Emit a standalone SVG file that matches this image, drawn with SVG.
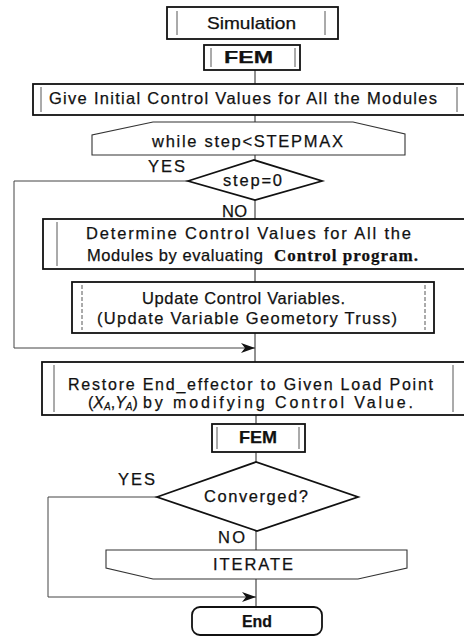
<svg xmlns="http://www.w3.org/2000/svg" width="464" height="637" viewBox="0 0 464 637">
<style>
.box{fill:#fff;stroke:#111;stroke-width:1.8}
.inner{stroke:#444;stroke-width:0.9;fill:none}
.shape{fill:#fff;stroke:#333;stroke-width:1.1}
.dia{fill:#fff;stroke:#111;stroke-width:1.8}
.conn{stroke:#222;stroke-width:1;fill:none}
.loop{stroke:#444;stroke-width:1;fill:none}
text{font-family:"Liberation Sans",Arial,sans-serif;font-size:16.5px;fill:#111;stroke:#111;stroke-width:0.25}
.b{font-weight:bold}
.serifb{font-family:"Liberation Serif","Times New Roman",serif;font-weight:bold;font-size:17px}
.r{font-size:16px}
</style>
<defs>
<marker id="arr" markerWidth="14" markerHeight="10" viewBox="0 0 14 10" refX="14" refY="5" orient="auto" markerUnits="userSpaceOnUse">
<path d="M0,0 L14,5 L0,10 L4,5 Z" fill="#111"/>
</marker>
</defs>
<g id="connectors">
<line class="conn" x1="255" y1="70" x2="255" y2="84"/>
<line class="conn" x1="255" y1="115" x2="255" y2="122"/>
<line class="conn" x1="255" y1="155" x2="255" y2="160"/>
<line class="conn" x1="255" y1="200" x2="255" y2="219"/>
<line class="conn" x1="255" y1="269" x2="255" y2="282"/>
<line class="conn" x1="255" y1="333" x2="255" y2="362"/>
<line class="conn" x1="256" y1="415" x2="256" y2="424"/>
<line class="conn" x1="256" y1="452" x2="256" y2="462"/>
<line class="conn" x1="256" y1="531" x2="256" y2="550"/>
<line class="conn" x1="256" y1="579" x2="256" y2="607"/>
<polyline class="loop" points="188,181 14,181 14,348 255,348" marker-end="url(#arr)"/>
<polyline class="loop" points="157,497 48,497 48,597 256,597" marker-end="url(#arr)"/>
</g>
<g id="simulation">
<rect class="box" x="167" y="7" width="171" height="32"/>
<line class="inner" x1="177" y1="11" x2="177" y2="35"/>
<line class="inner" x1="325" y1="11" x2="325" y2="35"/>
<text x="207" y="29" textLength="89" lengthAdjust="spacingAndGlyphs">Simulation</text>
</g>
<g id="fem1">
<rect class="box" x="204" y="45" width="96" height="25"/>
<line class="inner" x1="211" y1="48" x2="211" y2="67"/>
<line class="inner" x1="295" y1="48" x2="295" y2="67"/>
<text class="b" x="224" y="63" textLength="49" lengthAdjust="spacingAndGlyphs">FEM</text>
</g>
<g id="init">
<rect class="box" x="33" y="84" width="437" height="31"/>
<line class="inner" x1="41" y1="87" x2="41" y2="112"/>
<line class="inner" x1="457" y1="87" x2="457" y2="112"/>
<text x="49" y="104" textLength="388" lengthAdjust="spacing">Give Initial Control Values for All the Modules</text>
</g>
<g id="while">
<path class="shape" d="M92,155 L92,135 L153,122 L353,122 L405,134 L405,155 Z"/>
<text x="152" y="147" textLength="191" lengthAdjust="spacing">while step&lt;STEPMAX</text>
</g>
<g id="step0">
<polygon class="dia" points="188,181 254,160 322,181 255,200"/>
<text x="223" y="186" textLength="59" lengthAdjust="spacing">step=0</text>
<text x="148" y="172" textLength="37" lengthAdjust="spacing">YES</text>
<text x="222" y="217" textLength="25" lengthAdjust="spacing">NO</text>
</g>
<g id="determine">
<rect class="box" x="43" y="219" width="427" height="50"/>
<line class="inner" x1="57" y1="222" x2="57" y2="266"/>
<text x="86" y="239" textLength="325" lengthAdjust="spacing">Determine Control Values for All  the</text>
<text x="87" y="261" textLength="176" lengthAdjust="spacing">Modules by evaluating</text>
<text class="serifb" x="274" y="261" textLength="144" lengthAdjust="spacing">Control program.</text>
</g>
<g id="update">
<rect class="box" x="72" y="282" width="362" height="51"/>
<line class="inner" x1="82" y1="285" x2="82" y2="330" stroke-dasharray="4,2"/>
<line class="inner" x1="425" y1="285" x2="425" y2="330" stroke-dasharray="4,2"/>
<text x="142" y="304" textLength="203" lengthAdjust="spacing">Update Control Variables.</text>
<text x="97" y="324" textLength="300" lengthAdjust="spacing">(Update Variable Geometory Truss)</text>
</g>
<g id="restore">
<rect class="box" x="42" y="362" width="428" height="53"/>
<line class="inner" x1="54" y1="365" x2="54" y2="412"/>
<line class="inner" x1="453" y1="365" x2="453" y2="412"/>
<text class="r" x="68" y="390" textLength="365" lengthAdjust="spacing">Restore End_effector to Given Load Point</text>
<text class="r" x="88" y="408">(<tspan font-style="italic">X</tspan><tspan font-style="italic" font-size="10" dy="2">A</tspan><tspan dy="-2">,</tspan><tspan font-style="italic">Y</tspan><tspan font-style="italic" font-size="10" dy="2">A</tspan><tspan dy="-2">)</tspan></text>
<text class="r" x="143" y="408" textLength="270" lengthAdjust="spacing">by modifying Control Value.</text>
</g>
<g id="fem2">
<rect class="box" x="212" y="424" width="93" height="28"/>
<line class="inner" x1="217" y1="427" x2="217" y2="449"/>
<line class="inner" x1="299" y1="427" x2="299" y2="449"/>
<text class="b" x="239" y="443" textLength="38" lengthAdjust="spacingAndGlyphs">FEM</text>
</g>
<g id="converged">
<polygon class="dia" points="157,497 256,462 358,497 257,531"/>
<text x="204" y="502" textLength="104" lengthAdjust="spacing">Converged?</text>
<text x="118" y="485" textLength="37" lengthAdjust="spacing">YES</text>
<text x="218" y="543" textLength="27" lengthAdjust="spacing">NO</text>
</g>
<g id="iterate">
<path class="shape" d="M106,550 L407,550 L407,568 L358,579 L153,579 L106,568 Z"/>
<text x="213" y="570" textLength="80" lengthAdjust="spacing">ITERATE</text>
</g>
<g id="end">
<rect class="box" x="192" y="607" width="130" height="28" rx="8"/>
<text class="b" x="242" y="627" textLength="30" lengthAdjust="spacingAndGlyphs">End</text>
</g>
</svg>
